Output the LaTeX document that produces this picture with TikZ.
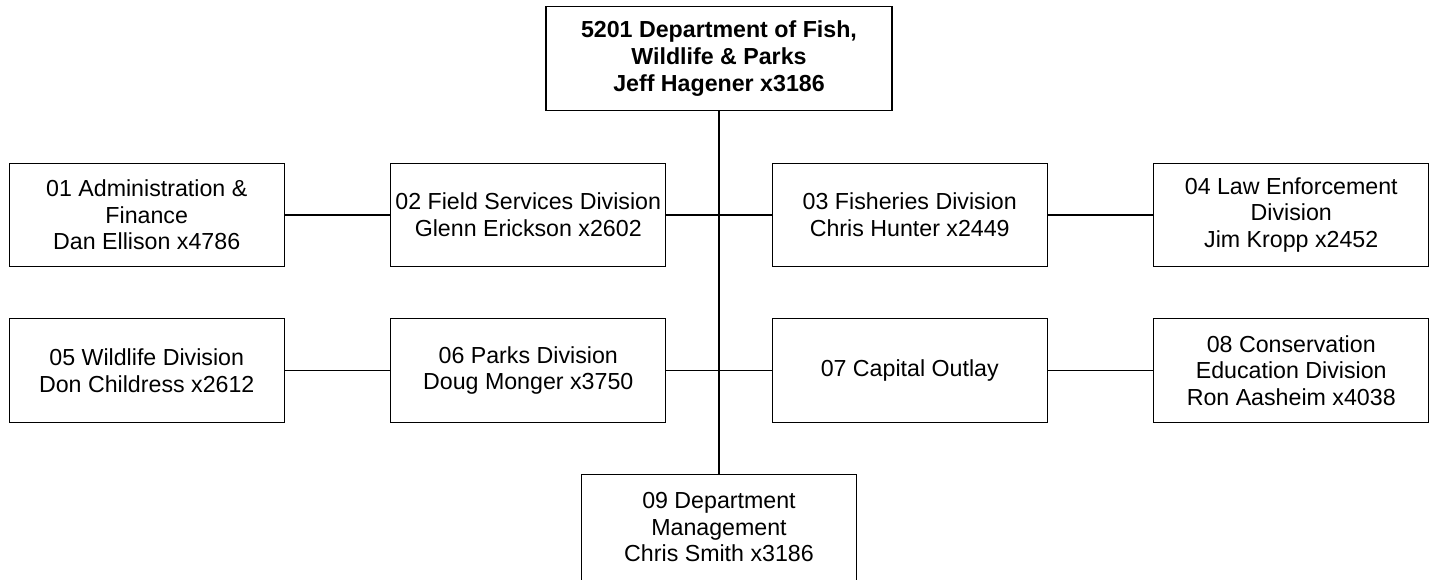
\documentclass[tikz,border=0pt]{standalone}
\usepackage{fontspec}
\setmainfont{Liberation Sans}
\usetikzlibrary{positioning}

\begin{document}
\begin{tikzpicture}[
    node distance=25.3pt and 52.6pt,
    unitbox/.style={rectangle, draw=black, line width=0.65pt, fill=white, align=center, minimum width=137.5pt, minimum height=51.8pt, inner sep=0pt, font=\fontsize{11.6}{13.3}\selectfont},
    headbox/.style={unitbox, minimum width=173pt, font=\fontsize{11.6}{13.3}\selectfont\bfseries},
    link/.style={draw=black, line width=0.65pt},
    trunk/.style={draw=black, line width=0.85pt}
]
    \node (dept) [headbox] {5201 Department of Fish,\\Wildlife \& Parks\\Jeff Hagener x3186};
    \useasboundingbox ([xshift=-359.5pt, yshift=3pt]dept.north) rectangle ([xshift=357.5pt, yshift=-286.5pt]dept.north);

    \node (field) [unitbox, below left=25.8pt and 26.3pt of dept.south] {02 Field Services Division\\Glenn Erickson x2602};
    \node (admin) [unitbox, left=of field] {01 Administration \&\\Finance\\Dan Ellison x4786};
    \node (fish) [unitbox, below right=25.8pt and 26.3pt of dept.south] {03 Fisheries Division\\Chris Hunter x2449};
    \node (law) [unitbox, right=of fish] {04 Law Enforcement\\Division\\Jim Kropp x2452};

    \node (parks) [unitbox, below=of field] {06 Parks Division\\Doug Monger x3750};
    \node (wild) [unitbox, left=of parks] {05 Wildlife Division\\Don Childress x2612};
    \node (capital) [unitbox, below=of fish] {07 Capital Outlay};
    \node (educ) [unitbox, right=of capital] {08 Conservation\\Education Division\\Ron Aasheim x4038};

    \coordinate (mid) at (dept.south |- parks.south);
    \node (mgmt) [unitbox, minimum height=53pt, below=of mid] {09 Department\\Management\\Chris Smith x3186};

    \draw [trunk] (dept.south) -- (mgmt.north);
    \draw [link] (admin) -- (field);
    \draw [link] (field) -- (fish);
    \draw [link] (fish) -- (law);
    \draw [link] (wild) -- (parks);
    \draw [link] (parks) -- (capital);
    \draw [link] (capital) -- (educ);
\end{tikzpicture}
\end{document}
